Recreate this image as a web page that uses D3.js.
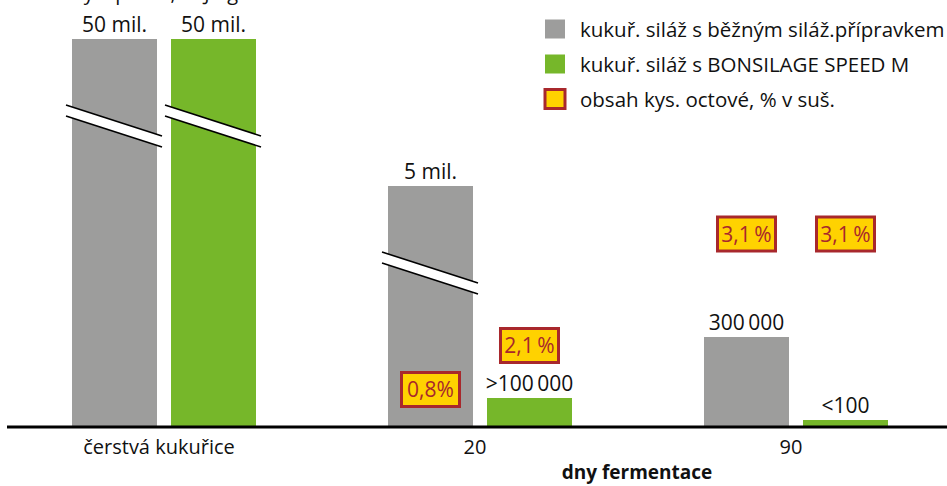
<!DOCTYPE html>
<html>
<head>
<meta charset="utf-8">
<script src="https://cdn.jsdelivr.net/npm/d3@7"></script>
<style>
  html, body { margin: 0; padding: 0; background: #fff; }
  svg { display: block; }
  text { font-family: "Open Sans", "Noto Sans", sans-serif; }
</style>
</head>
<body>
<svg id="chart" width="947" height="486"></svg>
<script>
// ---- data ----
const categories = ["čerstvá kukuřice", "20", "90"];
const seriesNames = ["kukuř. siláž s běžným siláž.přípravkem", "kukuř. siláž s BONSILAGE SPEED M"];
const aceticLegend = "obsah kys. octové, % v suš.";
const standardValues = [50000000, 5000000, 300000];
const bonsilageValues = [50000000, 100000, 100];
const standardLabels = ["50 mil.", "5 mil.", "300\u2009000"];
const bonsilageLabels = ["50 mil.", ">100\u2009000", "<100"];
const aceticStandard = [null, 0.8, 3.1];
const aceticBonsilage = [null, 2.1, 3.1];
const aceticStandardLabels = [null, "0,8%", "3,1\u2009%"];
const aceticBonsilageLabels = [null, "2,1\u2009%", "3,1\u2009%"];
const xTitle = "dny fermentace";
const yTitle = "Kvasinky a plísně, KTJ / g";

// ---- styles ----
const colors = ["#9d9d9c", "#76b72a"];
const boxFill = "#ffd200";
const boxStroke = "#a8282c";
const breakThreshold = 1000000;

const svg = d3.select("#chart");

const x0 = d3.scaleBand().domain(categories).range([6, 954]);
const x1 = d3.scaleBand().domain([0, 1]).range([-92, 92]).paddingInner(0.1414);
// broken (piecewise) value axis
const y = d3.scaleLinear()
  .domain([0, 100, 100000, 300000, 5000000, 50000000])
  .range([427, 420, 398, 337, 186, 39]);
// placement scale for acetic-acid annotations
const yAcid = d3.scaleLinear().domain([0.8, 2.1, 3.1]).range([389.5, 345.5, 234]);

const rows = [];
categories.forEach((c, i) => {
  rows.push({cat: c, s: 0, v: standardValues[i], label: standardLabels[i], acid: aceticStandard[i], acidLabel: aceticStandardLabels[i]});
  rows.push({cat: c, s: 1, v: bonsilageValues[i], label: bonsilageLabels[i], acid: aceticBonsilage[i], acidLabel: aceticBonsilageLabels[i]});
});
const bx = d => x0(d.cat) + x0.bandwidth() / 2 + x1(d.s);
const bw = x1.bandwidth();

// y title (cut at top, as in the original)
svg.append("text").attr("x", 13).attr("y", 0).attr("font-size", 20).attr("fill", "#111").text(yTitle);

// bars
svg.append("g").selectAll("rect").data(rows).join("rect")
  .attr("x", bx).attr("y", d => y(d.v))
  .attr("width", bw).attr("height", d => y(0) - y(d.v))
  .attr("fill", d => colors[d.s]);

// break marks
const breaks = svg.append("g");
rows.filter(d => d.v >= breakThreshold).forEach(d => {
  const xl = bx(d) - 6, xr = bx(d) + bw + 5;
  const yl = y(d.v) + 66, yr = yl + 31, gap = 11;
  breaks.append("path")
    .attr("d", `M${xl},${yl}L${xr},${yr}L${xr},${yr + gap}L${xl},${yl + gap}Z`)
    .attr("fill", "#fff");
  breaks.append("line").attr("x1", xl).attr("y1", yl).attr("x2", xr).attr("y2", yr)
    .attr("stroke", "#000").attr("stroke-width", 1.6);
  breaks.append("line").attr("x1", xl).attr("y1", yl + gap).attr("x2", xr).attr("y2", yr + gap)
    .attr("stroke", "#000").attr("stroke-width", 1.6);
});

// value labels
svg.append("g").selectAll("text").data(rows).join("text")
  .attr("x", d => bx(d) + bw / 2).attr("y", d => y(d.v) - 7)
  .attr("text-anchor", "middle").attr("font-size", 21).attr("fill", "#111")
  .text(d => d.label);

// acetic acid boxes
const acid = svg.append("g").selectAll("g").data(rows.filter(d => d.acid != null)).join("g")
  .attr("transform", d => `translate(${bx(d) + bw / 2},${yAcid(d.acid)})`);
acid.append("rect").attr("x", -29).attr("y", -17).attr("width", 58).attr("height", 34)
  .attr("fill", boxFill).attr("stroke", boxStroke).attr("stroke-width", 3);
acid.append("text").attr("text-anchor", "middle").attr("dy", "0.36em")
  .attr("font-size", 21).attr("fill", boxStroke).text(d => d.acidLabel);

// x axis
const axis = svg.append("g").attr("transform", `translate(0,${y(0)})`)
  .call(d3.axisBottom(x0).tickSize(0).tickSizeOuter(0).tickPadding(13));
axis.select(".domain").attr("stroke", "#000").attr("stroke-width", 3)
  .attr("d", "M7,0H947");
axis.selectAll(".tick text").attr("font-size", 20).attr("fill", "#111")
  .attr("font-family", "'Open Sans', sans-serif").attr("dx", -5);

svg.append("text").attr("x", 637).attr("y", 479).attr("text-anchor", "middle")
  .attr("font-size", 19).attr("font-weight", "bold").attr("fill", "#111").text(xTitle);

// legend
const legendItems = [
  {label: seriesNames[0], fill: colors[0], stroke: null},
  {label: seriesNames[1], fill: colors[1], stroke: null},
  {label: aceticLegend, fill: boxFill, stroke: boxStroke}
];
const lg = svg.append("g").selectAll("g").data(legendItems).join("g")
  .attr("transform", (d, i) => `translate(545,${19.5 + i * 35})`);
lg.append("rect").attr("width", 20).attr("height", 19)
  .attr("fill", d => d.fill)
  .attr("stroke", d => d.stroke || "none").attr("stroke-width", 3);
lg.append("text").attr("x", 35).attr("y", 17).attr("font-size", 20.5).attr("fill", "#111")
  .text(d => d.label);
</script>
</body>
</html>
